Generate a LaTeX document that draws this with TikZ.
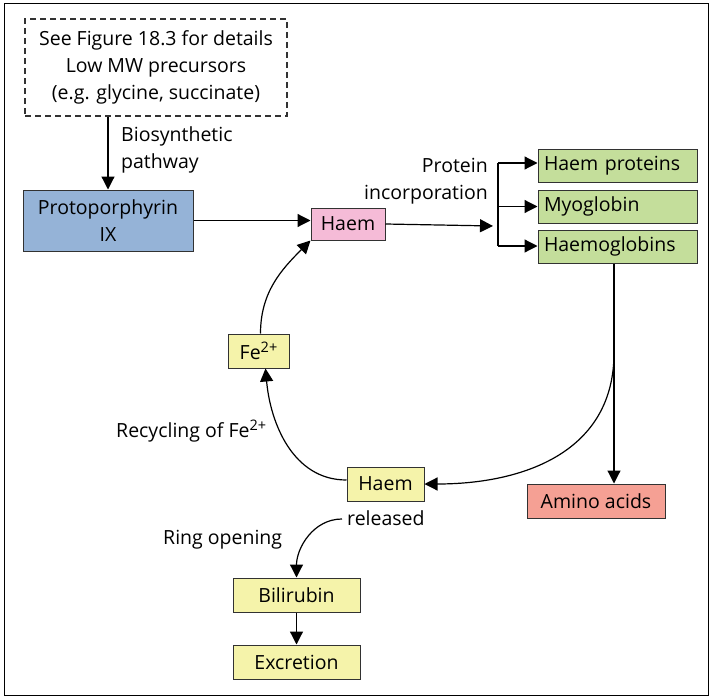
\documentclass[tikz,border=0pt]{standalone}
\usepackage{fontspec}
\setmainfont{Open Sans}
\usetikzlibrary{arrows.meta,calc}
\definecolor{cblue}{RGB}{149,179,215}
\definecolor{cpink}{RGB}{245,187,215}
\definecolor{cgreen}{RGB}{196,222,155}
\definecolor{cyellow}{RGB}{245,243,170}
\definecolor{csalmon}{RGB}{245,160,148}
\definecolor{cedge}{RGB}{50,50,50}
\newcommand{\sptwo}{\raisebox{0.38em}{\fontsize{14.5}{14.5}\selectfont 2+}}
\begin{document}
\begin{tikzpicture}[x=1pt,y=-1pt,
  every node/.style={font=\fontsize{19.5}{27}\selectfont},
  box/.style={draw=cedge,line width=1pt,inner sep=0pt,align=center},
  gbox/.style={box,fill=cgreen,minimum width=159pt,minimum height=33pt,text width=147pt,align=left},
  ybox/.style={box,fill=cyellow,minimum height=34pt},
  lbl/.style={inner sep=0pt},
  conn/.style={line width=1.2pt,-{Triangle[length=13pt,width=13pt]}},
  plain/.style={line width=1.2pt}]
\useasboundingbox (0,0) rectangle (710,696);
\draw[line width=1pt] (4,3) rectangle (708.5,695);

\node[box,draw=cedge,line width=1.2pt,dash pattern=on 6pt off 4pt,minimum width=262pt,minimum height=97pt] (dash) at (156,67.5)
  {See Figure 18.3 for details\\Low MW precursors\\(e.g. glycine, succinate)};
\node[box,fill=cblue,minimum width=170pt,minimum height=61pt] (proto) at (108,220.5)
  {Protoporphyrin\\IX};
\node[box,fill=cpink,minimum width=74pt,minimum height=32pt] (hp) at (348,224) {Haem};
\node[gbox] (hpr) at (617.5,166) {Haem proteins};
\node[gbox] (myo) at (617.5,206.5) {Myoglobin};
\node[gbox] (hb) at (617.5,246.5) {Haemoglobins};
\node[box,fill=csalmon,minimum width=138pt,minimum height=34pt] (aa) at (596,501) {Amino acids};
\node[ybox,minimum width=61pt] (fe) at (258.5,351) {Fe\sptwo};
\node[ybox,minimum width=77pt] (hy) at (385.5,484) {Haem};
\node[ybox,minimum width=127pt] (bil) at (296.5,595) {Bilirubin};
\node[ybox,minimum width=127pt] (exc) at (296.5,662) {Excretion};

\node[lbl,anchor=west,align=left] (bio) at (121,149.5) {Biosynthetic\\pathway};
\node[lbl,anchor=east,align=right] (pinc) at (488,181) {Protein\\incorporation};
\node[lbl,anchor=west] (rec) at (116,431) {Recycling of Fe\sptwo};
\node[lbl,anchor=west] (rel) at (347,518) {released};
\node[lbl,anchor=west] (ring) at (163,540) {Ring opening};

\coordinate (bar) at (498,226);
\coordinate (bartop) at (498,163);
\coordinate (barbot) at (498,246);
\coordinate (split) at (614,353);

\draw[conn] (dash.south -| proto.north) -- (proto.north);
\draw[conn] (proto.east) -- (proto.east -| hp.west);
\draw[conn] (hp.east) -- ($(bar)+(-5,0)$);
\draw[plain] (bartop) -- (barbot);
\draw[conn] (bartop) -- (bartop -| hpr.west);
\draw[conn] (bar |- myo.west) -- (myo.west);
\draw[conn] (barbot) -- (barbot -| hb.west);
\draw[conn] (hb.south -| split) -- (aa.north -| split);
\draw[conn] (split) to[out=-90,in=0,looseness=1.1] (hy.east);
\draw[conn] ($(hy.west)+(0,-4)$) to[out=180,in=-85] ($(fe.south)+(7,0)$);
\draw[conn] ($(fe.north)+(2,0)$) to[out=90,in=225] (hp.south west);
\draw[conn] ($(rel.west)+(-5,1)$) to[out=180,in=90] (bil.north);
\draw[conn] (bil.south) -- (exc.north);
\end{tikzpicture}
\end{document}
